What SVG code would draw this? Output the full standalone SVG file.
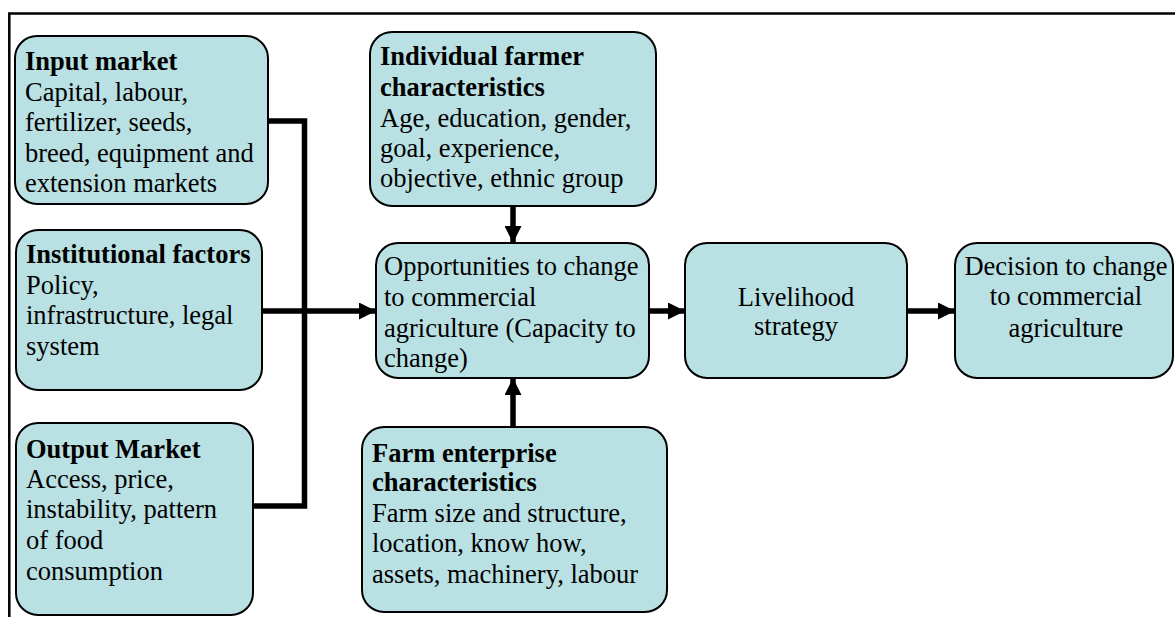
<svg xmlns="http://www.w3.org/2000/svg" width="1175" height="617" viewBox="0 0 1175 617">
  <style>
    .box { fill: #b9e0e3; stroke: #000; stroke-width: 2; }
    .wire { fill: none; stroke: #000; stroke-width: 5.5; stroke-linejoin: miter; }
    .frame { fill: none; stroke: #000; stroke-width: 2.5; }
  </style>
  <defs>
    <marker id="arrow" markerUnits="userSpaceOnUse" viewBox="0 0 17 17" refX="17" refY="8.5" markerWidth="17" markerHeight="17" orient="auto">
      <path d="M0,0 L17,8.5 L0,17 Z" fill="#000"/>
    </marker>
  </defs>
  <rect width="1175" height="617" fill="#fff"/>

  <!-- outer frame: top and left edges -->
  <path class="frame" d="M9.3,617 L9.3,13.5 L1175,13.5"/>

  <!-- connectors -->
  <g id="connectors">
    <path class="wire" d="M268,121 L304.5,121 L304.5,506 L253,506"/>
    <line class="wire" x1="262" y1="311" x2="376" y2="311" marker-end="url(#arrow)"/>
    <line class="wire" x1="513" y1="206" x2="513" y2="243" marker-end="url(#arrow)"/>
    <line class="wire" x1="513" y1="427" x2="513" y2="378" marker-end="url(#arrow)"/>
    <line class="wire" x1="649" y1="311" x2="685" y2="311" marker-end="url(#arrow)"/>
    <line class="wire" x1="907" y1="311" x2="955" y2="311" marker-end="url(#arrow)"/>
  </g>

  <g id="input-market">
    <rect class="box" x="15" y="36" width="253" height="168" rx="22"/>
    <text x="25" y="70" font-family="'Liberation Serif', serif" font-size="26.5" font-weight="bold">Input market</text>
    <text x="25" y="101" font-family="'Liberation Serif', serif" font-size="26.5">Capital, labour,</text>
    <text x="25" y="131" font-family="'Liberation Serif', serif" font-size="26.5">fertilizer, seeds,</text>
    <text x="25" y="162" font-family="'Liberation Serif', serif" font-size="26.5">breed, equipment and</text>
    <text x="25" y="192" font-family="'Liberation Serif', serif" font-size="26.5">extension markets</text>
  </g>

  <g id="institutional-factors">
    <rect class="box" x="16" y="230" width="246" height="160" rx="22"/>
    <text x="26" y="263" font-family="'Liberation Serif', serif" font-size="26.5" font-weight="bold">Institutional factors</text>
    <text x="26" y="294" font-family="'Liberation Serif', serif" font-size="26.5">Policy,</text>
    <text x="26" y="324" font-family="'Liberation Serif', serif" font-size="26.5">infrastructure, legal</text>
    <text x="26" y="355" font-family="'Liberation Serif', serif" font-size="26.5">system</text>
  </g>

  <g id="output-market">
    <rect class="box" x="16" y="423" width="237" height="192" rx="22"/>
    <text x="26" y="458" font-family="'Liberation Serif', serif" font-size="26.5" font-weight="bold">Output Market</text>
    <text x="26" y="488" font-family="'Liberation Serif', serif" font-size="26.5">Access, price,</text>
    <text x="26" y="518" font-family="'Liberation Serif', serif" font-size="26.5">instability, pattern</text>
    <text x="26" y="549" font-family="'Liberation Serif', serif" font-size="26.5">of food</text>
    <text x="26" y="580" font-family="'Liberation Serif', serif" font-size="26.5">consumption</text>
  </g>

  <g id="individual-farmer">
    <rect class="box" x="370" y="32" width="286" height="174" rx="22"/>
    <text x="380" y="65" font-family="'Liberation Serif', serif" font-size="26.5" font-weight="bold">Individual farmer</text>
    <text x="380" y="96" font-family="'Liberation Serif', serif" font-size="26.5" font-weight="bold">characteristics</text>
    <text x="380" y="127" font-family="'Liberation Serif', serif" font-size="26.5">Age, education, gender,</text>
    <text x="380" y="157" font-family="'Liberation Serif', serif" font-size="26.5">goal, experience,</text>
    <text x="380" y="187" font-family="'Liberation Serif', serif" font-size="26.5">objective, ethnic group</text>
  </g>

  <g id="opportunities">
    <rect class="box" x="376" y="243" width="273" height="135" rx="22"/>
    <text x="384" y="275" font-family="'Liberation Serif', serif" font-size="26.5">Opportunities to change</text>
    <text x="384" y="306" font-family="'Liberation Serif', serif" font-size="26.5">to commercial</text>
    <text x="384" y="337" font-family="'Liberation Serif', serif" font-size="26.5">agriculture (Capacity to</text>
    <text x="384" y="367" font-family="'Liberation Serif', serif" font-size="26.5">change)</text>
  </g>

  <g id="farm-enterprise">
    <rect class="box" x="362" y="427" width="305" height="185" rx="22"/>
    <text x="372" y="462" font-family="'Liberation Serif', serif" font-size="26.5" font-weight="bold">Farm enterprise</text>
    <text x="372" y="491" font-family="'Liberation Serif', serif" font-size="26.5" font-weight="bold">characteristics</text>
    <text x="372" y="522" font-family="'Liberation Serif', serif" font-size="26.5">Farm size and structure,</text>
    <text x="372" y="552" font-family="'Liberation Serif', serif" font-size="26.5">location, know how,</text>
    <text x="372" y="583" font-family="'Liberation Serif', serif" font-size="26.5">assets, machinery, labour</text>
  </g>

  <g id="livelihood-strategy">
    <rect class="box" x="685" y="243" width="222" height="135" rx="22"/>
    <text x="796" y="306" font-family="'Liberation Serif', serif" font-size="26.5" text-anchor="middle">Livelihood</text>
    <text x="796" y="335" font-family="'Liberation Serif', serif" font-size="26.5" text-anchor="middle">strategy</text>
  </g>

  <g id="decision">
    <rect class="box" x="955" y="243" width="218" height="135" rx="22"/>
    <text x="1066" y="275" font-family="'Liberation Serif', serif" font-size="26.5" text-anchor="middle">Decision to change</text>
    <text x="1066" y="305" font-family="'Liberation Serif', serif" font-size="26.5" text-anchor="middle">to commercial</text>
    <text x="1066" y="337" font-family="'Liberation Serif', serif" font-size="26.5" text-anchor="middle">agriculture</text>
  </g>
</svg>
